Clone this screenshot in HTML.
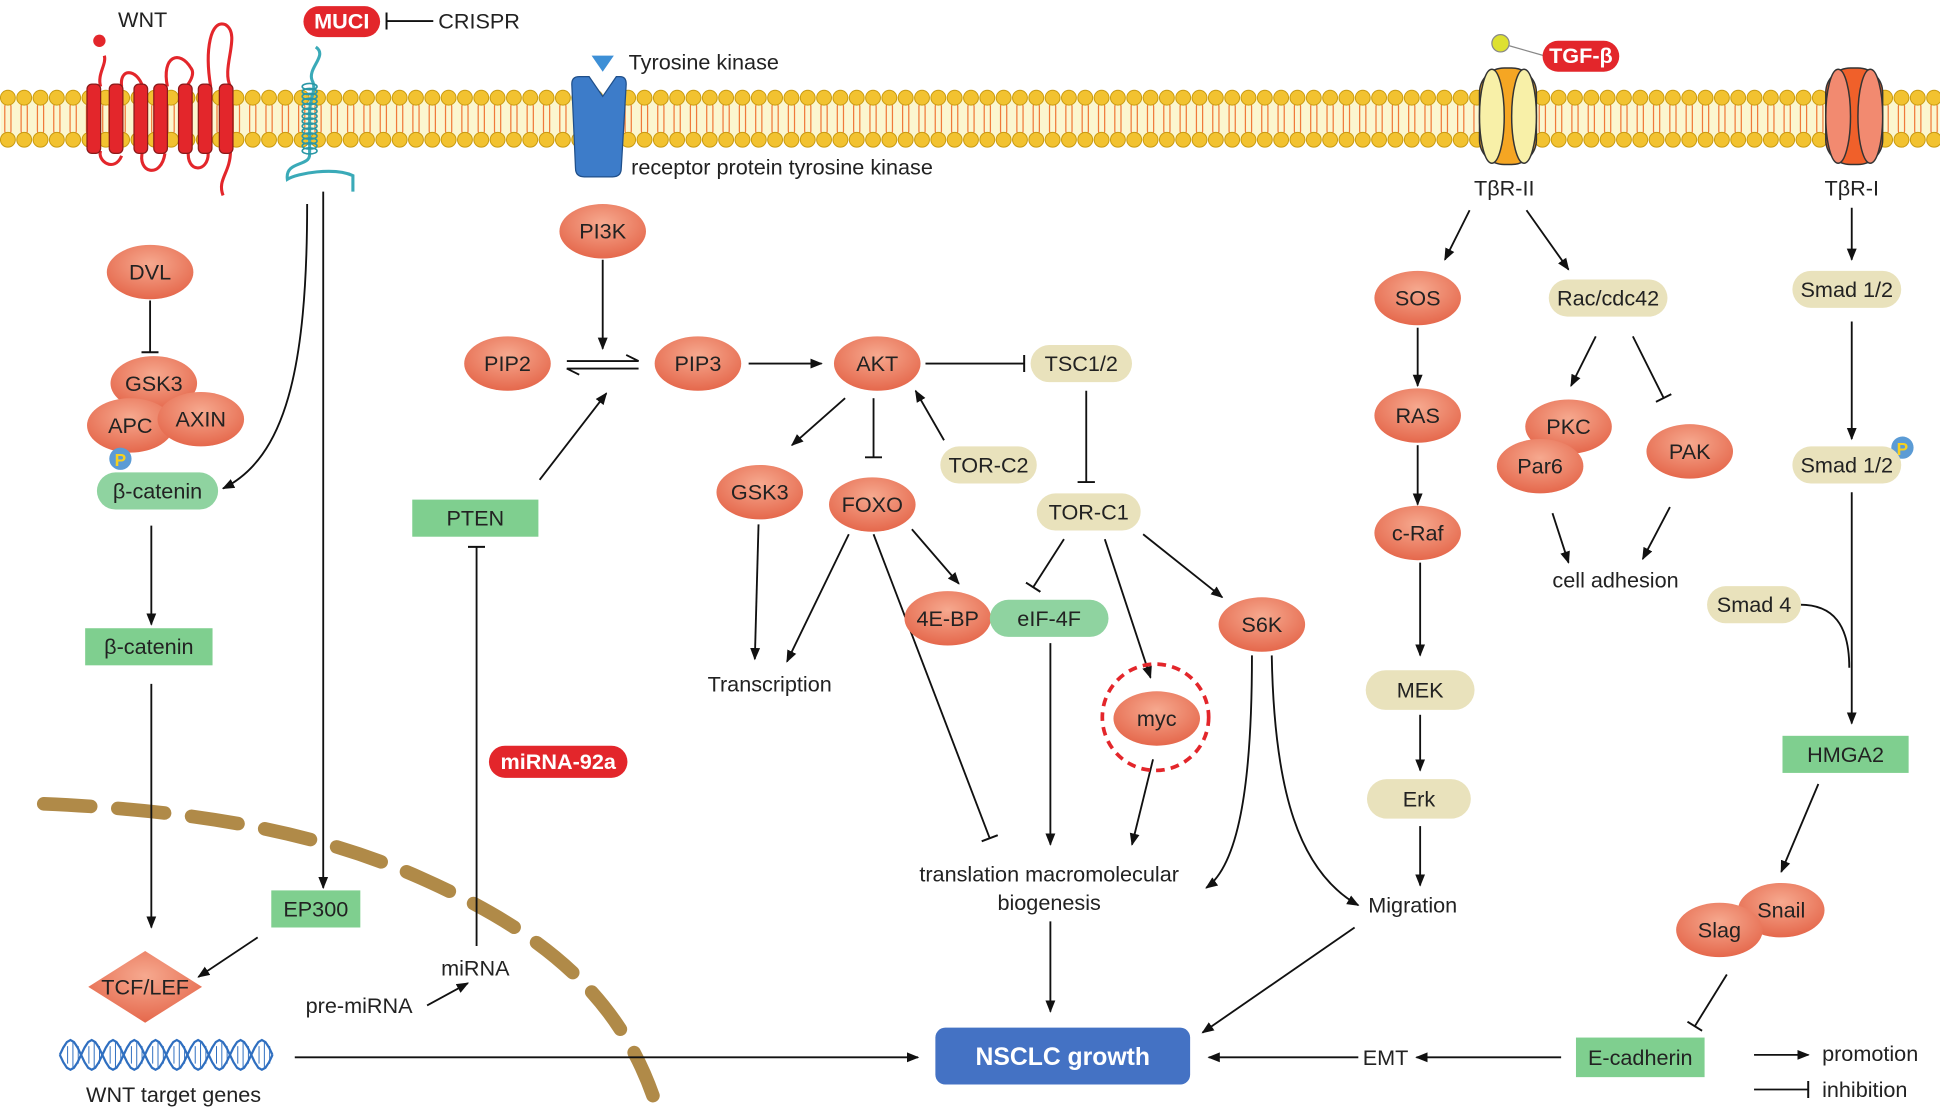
<!DOCTYPE html>
<html><head><meta charset="utf-8"><style>
html,body{margin:0;padding:0;background:#fff;}
svg{display:block;}
text{font-family:"Liberation Sans",sans-serif;font-size:17.5px;fill:#222;}
.c{text-anchor:middle;}
</style></head><body>
<svg id="s" width="1940" height="1113" viewBox="0 0 1568 900" xmlns="http://www.w3.org/2000/svg">
<defs>
<radialGradient id="sal" cx="50%" cy="35%" r="65%"><stop offset="0" stop-color="#f6a98f"/><stop offset="1" stop-color="#e5684c"/></radialGradient>
<marker id="a" markerWidth="10" markerHeight="10" refX="9" refY="5" orient="auto" markerUnits="userSpaceOnUse"><path d="M0,1 L10,5 L0,9 Z" fill="#111"/></marker>
<marker id="t" markerWidth="4" markerHeight="14" refX="2" refY="7" orient="auto" markerUnits="userSpaceOnUse"><rect x="1" y="0" width="1.6" height="14" fill="#111"/></marker>
</defs>
<rect x="0" y="78" width="1568" height="36" fill="#fbf6cf"/>
<g id="lip"></g>
<g stroke="#e3262b" stroke-width="2.5" fill="none">
<path d="M81,70 C78,60 86,52 84,45"/><path d="M98,70 C96,55 110,55 115,70"/><path d="M135,70 C130,45 145,40 154,55 C158,60 152,68 150,70"/><path d="M170,70 C165,40 170,15 182,20 C195,28 178,55 186,70"/>
<path d="M81,122 C78,130 92,140 98,126"/><path d="M115,122 C110,140 130,145 133,124"/><path d="M152,122 C150,140 168,140 168,124"/><path d="M186,122 C186,140 175,145 180,158"/>
</g>
<circle cx="80" cy="33" r="5" fill="#e3262b"/>
<g fill="#e3262b" stroke="#8a1a1a" stroke-width="1">
<rect x="70" y="68" width="11" height="56" rx="4"/><rect x="88" y="68" width="11" height="56" rx="4"/><rect x="108" y="68" width="11" height="56" rx="4"/><rect x="124" y="68" width="11" height="56" rx="4"/><rect x="144" y="68" width="11" height="56" rx="4"/><rect x="160" y="68" width="11" height="56" rx="4"/><rect x="177" y="68" width="11" height="56" rx="4"/>
</g>
<text x="115" y="22" class="c">WNT</text>
<path d="M255,38 C265,45 248,55 252,65 C256,72 250,80 250,90 L250,125 C250,135 230,130 232,145 C240,140 270,135 285,142 L285,155" stroke="#3aaab8" stroke-width="2.5" fill="none"/>
<g id="coil"></g>
<rect x="245" y="5" width="62" height="25" rx="12.5" fill="#e3262b"/>
<text x="276" y="23" class="c" style="fill:#fff;font-weight:bold">MUCI</text>
<line x1="350" y1="17" x2="312" y2="17" stroke="#111" stroke-width="1.5" marker-end="url(#t)"/>
<text x="354" y="23">CRISPR</text>
<path d="M462,68 Q462,62 468,62 L476,62 L487,78 L498,62 L501,62 Q506,62 506,68 L502,136 Q502,143 495,143 L472,143 Q465,143 465,136 Z" fill="#3d7cc9" stroke="#1f4f8a"/>
<path d="M478,45 L496,45 L487,58 Z" fill="#3d8fd6"/>
<text x="508" y="56">Tyrosine kinase</text>
<text x="510" y="141">receptor protein tyrosine kinase</text>
<g stroke="#333" stroke-width="1.2">
<rect x="1196" y="55" width="46" height="78" rx="20" fill="#f5a623"/>
<ellipse cx="1206" cy="94" rx="10" ry="38" fill="#f8f0a8"/><ellipse cx="1232" cy="94" rx="10" ry="38" fill="#f8f0a8"/>
<rect x="1476" y="55" width="46" height="78" rx="20" fill="#f0602a"/>
<ellipse cx="1486" cy="94" rx="10" ry="38" fill="#f28a70"/><ellipse cx="1512" cy="94" rx="10" ry="38" fill="#f28a70"/>
</g>
<circle cx="1213" cy="35" r="7" fill="#dde030" stroke="#888"/>
<line x1="1220" y1="37" x2="1248" y2="45" stroke="#888"/>
<rect x="1247" y="33" width="62" height="25" rx="12.5" fill="#e3262b"/>
<text x="1278" y="51" class="c" style="fill:#fff;font-weight:bold">TGF-β</text>
<text x="1216" y="158" class="c">TβR-II</text>
<text x="1497" y="158" class="c">TβR-I</text>
<path d="M35,650 C150,655 250,670 340,710 C430,750 500,800 530,893" stroke="#b08a48" stroke-width="11" fill="none" stroke-dasharray="38 22" stroke-linecap="round"/>
<g stroke="#2f6fc0" stroke-width="1.8" fill="none">
<path id="d1"/><path id="d2"/>
</g>
<g stroke="#111" stroke-width="1.5" fill="none">
<line x1="121" y1="243" x2="121" y2="285" marker-end="url(#t)"/>
<path d="M248,165 C248,300 230,370 180,395" marker-end="url(#a)"/>
<line x1="261" y1="155" x2="261" y2="718" marker-end="url(#a)"/>
<line x1="122" y1="425" x2="122" y2="505" marker-end="url(#a)"/>
<line x1="122" y1="553" x2="122" y2="750" marker-end="url(#a)"/>
<line x1="208" y1="758" x2="160" y2="790" marker-end="url(#a)"/>
<line x1="238" y1="855" x2="742" y2="855" marker-end="url(#a)"/>
<line x1="487" y1="210" x2="487" y2="282" marker-end="url(#a)"/>
<path d="M458,292 L516,292 L506,287"/><path d="M516,298 L458,298 L468,303"/>
<line x1="436" y1="388" x2="490" y2="318" marker-end="url(#a)"/>
<line x1="605" y1="294" x2="664" y2="294" marker-end="url(#a)"/>
<line x1="748" y1="294" x2="828" y2="294" marker-end="url(#t)"/>
<line x1="878" y1="316" x2="878" y2="390" marker-end="url(#t)"/>
<line x1="763" y1="356" x2="740" y2="316" marker-end="url(#a)"/>
<line x1="683" y1="322" x2="640" y2="360" marker-end="url(#a)"/>
<line x1="706" y1="322" x2="706" y2="370" marker-end="url(#t)"/>
<line x1="613" y1="424" x2="610" y2="533" marker-end="url(#a)"/>
<line x1="686" y1="432" x2="636" y2="535" marker-end="url(#a)"/>
<line x1="737" y1="428" x2="775" y2="472" marker-end="url(#a)"/>
<line x1="706" y1="432" x2="800" y2="678" marker-end="url(#t)"/>
<line x1="860" y1="436" x2="835" y2="475" marker-end="url(#t)"/>
<line x1="893" y1="436" x2="930" y2="548" marker-end="url(#a)"/>
<line x1="924" y1="432" x2="988" y2="483" marker-end="url(#a)"/>
<line x1="849" y1="520" x2="849" y2="683" marker-end="url(#a)"/>
<line x1="932" y1="614" x2="915" y2="683" marker-end="url(#a)"/>
<path d="M1012,530 C1012,640 1000,700 975,718" marker-end="url(#a)"/>
<path d="M1028,530 C1030,640 1050,705 1098,732" marker-end="url(#a)"/>
<line x1="849" y1="745" x2="849" y2="818" marker-end="url(#a)"/>
<line x1="1095" y1="750" x2="972" y2="835" marker-end="url(#a)"/>
<line x1="1098" y1="855" x2="977" y2="855" marker-end="url(#a)"/>
<line x1="1262" y1="855" x2="1145" y2="855" marker-end="url(#a)"/>
<line x1="1188" y1="170" x2="1168" y2="210" marker-end="url(#a)"/>
<line x1="1234" y1="170" x2="1268" y2="218" marker-end="url(#a)"/>
<line x1="1146" y1="265" x2="1146" y2="312" marker-end="url(#a)"/>
<line x1="1146" y1="360" x2="1146" y2="408" marker-end="url(#a)"/>
<line x1="1148" y1="455" x2="1148" y2="530" marker-end="url(#a)"/>
<line x1="1148" y1="578" x2="1148" y2="623" marker-end="url(#a)"/>
<line x1="1148" y1="668" x2="1148" y2="716" marker-end="url(#a)"/>
<line x1="1290" y1="272" x2="1270" y2="312" marker-end="url(#a)"/>
<line x1="1320" y1="272" x2="1345" y2="322" marker-end="url(#t)"/>
<line x1="1255" y1="415" x2="1268" y2="455" marker-end="url(#a)"/>
<line x1="1350" y1="410" x2="1328" y2="452" marker-end="url(#a)"/>
<line x1="1497" y1="168" x2="1497" y2="210" marker-end="url(#a)"/>
<line x1="1497" y1="260" x2="1497" y2="355" marker-end="url(#a)"/>
<line x1="1497" y1="398" x2="1497" y2="585" marker-end="url(#a)"/>
<path d="M1455,489 C1482,489 1495,505 1495,540"/>
<line x1="1470" y1="634" x2="1440" y2="705" marker-end="url(#a)"/>
<line x1="1396" y1="788" x2="1370" y2="830" marker-end="url(#t)"/>
<line x1="385" y1="765" x2="385" y2="442" marker-end="url(#t)"/>
<line x1="345" y1="813" x2="378" y2="795" marker-end="url(#a)"/>
<line x1="1418" y1="853" x2="1462" y2="853" marker-end="url(#a)"/>
<line x1="1418" y1="881" x2="1462" y2="881" marker-end="url(#t)"/>
</g>
<g id="sn" fill="url(#sal)"></g>
<circle cx="97" cy="371" r="9" fill="#5b9bd5"/><text x="97" y="377" class="c" style="fill:#f5d020;font-weight:bold;font-size:14px">P</text>
<circle cx="1538" cy="362" r="9" fill="#5b9bd5"/><text x="1538" y="368" class="c" style="fill:#f5d020;font-weight:bold;font-size:14px">P</text>
<path d="M117,769 L163,798 L117,827 L71,798 Z" fill="url(#sal)"/>
<text x="117" y="804" class="c">TCF/LEF</text>
<circle cx="934" cy="580" r="43" fill="none" stroke="#e3262b" stroke-width="3" stroke-dasharray="7 5"/>
<g id="bx"></g>
<rect x="756" y="831" width="206" height="46" rx="8" fill="#4472c4"/>
<text x="859" y="861" class="c" style="fill:#fff;font-weight:bold;font-size:20px">NSCLC growth</text>
<rect x="395" y="603" width="112" height="26" rx="13" fill="#e3262b"/>
<text x="451" y="622" class="c" style="fill:#fff;font-weight:bold">miRNA-92a</text>
<text x="622" y="559" class="c">Transcription</text>
<text x="848" y="713" class="c">translation macromolecular</text>
<text x="848" y="736" class="c">biogenesis</text>
<text x="1142" y="738" class="c">Migration</text>
<text x="1306" y="475" class="c">cell adhesion</text>
<text x="1120" y="861" class="c">EMT</text>
<text x="384" y="789" class="c">miRNA</text>
<text x="290" y="819" class="c">pre-miRNA</text>
<text x="140" y="891" class="c">WNT target genes</text>
<text x="1473" y="858">promotion</text>
<text x="1473" y="887">inhibition</text>
</svg>
<script>
var NS="http://www.w3.org/2000/svg";
function el(p,t,a,txt){var e=document.createElementNS(NS,t);for(var k in a)e.setAttribute(k,a[k]);if(txt!==undefined)e.textContent=txt;p.appendChild(e);return e;}
var lip=document.getElementById('lip');
for(var x=6;x<1568;x+=13.2){
 el(lip,'rect',{x:x-2.5,y:84,width:5,height:24,rx:2,fill:'none',stroke:'#f07a3a','stroke-width':1});
 el(lip,'circle',{cx:x,cy:79,r:6,fill:'#f2c230',stroke:'#c99a10','stroke-width':0.8});
 el(lip,'circle',{cx:x,cy:113,r:6,fill:'#f2c230',stroke:'#c99a10','stroke-width':0.8});
}
var coil=document.getElementById('coil');
for(var y=70;y<125;y+=4){el(coil,'ellipse',{cx:250,cy:y,rx:6,ry:2.5,fill:'none',stroke:'#2a97a6','stroke-width':1.3});}
var d1='',d2='';for(var i=0;i<=60;i++){var x=48+i*172/60,y1=853+12*Math.sin(i/60*Math.PI*10),y2=853-12*Math.sin(i/60*Math.PI*10);d1+=(i?'L':'M')+x+','+y1;d2+=(i?'L':'M')+x+','+y2;}
document.getElementById('d1').setAttribute('d',d1);document.getElementById('d2').setAttribute('d',d2);
var dg=document.getElementById('d1').parentNode;for(var i=0;i<40;i++){var x=50+i*4.3;el(dg,'line',{x1:x,y1:853-10*Math.abs(Math.sin(i/40*Math.PI*10)),x2:x,y2:853+10*Math.abs(Math.sin(i/40*Math.PI*10)),'stroke-width':0.8});}
var sn=document.getElementById('sn');
[["DVL",121,220],["GSK3",124,310],["APC",105,344],["AXIN",162,339],["PI3K",487,187],["PIP2",410,294],["PIP3",564,294],["AKT",709,294],["GSK3",614,398],["FOXO",705,408],["4E-BP",766,500],["S6K",1020,505],["myc",935,581],["SOS",1146,241],["RAS",1146,336],["c-Raf",1146,431],["PKC",1268,345],["Par6",1245,377],["PAK",1366,365],["Snail",1440,736],["Slag",1390,752]].forEach(function(n){
 el(sn,'ellipse',{cx:n[1],cy:n[2],rx:35,ry:22});
 el(sn,'text',{x:n[1],y:n[2]+6,'class':'c'},n[0]);
});
var bx=document.getElementById('bx');
[["β-catenin",127,397,98,30,"#8fd3a0",15],["β-catenin",120,523,103,30,"#7fcf8f",0],["TSC1/2",874,294,82,30,"#e9e2bc",15],["PTEN",384,419,102,30,"#7fcf8f",0],["TOR-C2",799,376,78,30,"#e9e2bc",15],["TOR-C1",880,414,84,30,"#e9e2bc",15],["eIF-4F",848,500,96,30,"#8fd3a0",15],["EP300",255,735,72,30,"#7fcf8f",0],["MEK",1148,558,88,32,"#e9e2bc",16],["Erk",1147,646,84,32,"#e9e2bc",16],["Rac/cdc42",1300,241,96,30,"#e9e2bc",15],["Smad 1/2",1493,234,88,30,"#e9e2bc",15],["Smad 1/2",1493,376,88,30,"#e9e2bc",15],["Smad 4",1418,489,76,30,"#e9e2bc",15],["HMGA2",1492,610,102,30,"#7fcf8f",0],["E-cadherin",1326,855,104,32,"#7fcf8f",0]].forEach(function(b){
 el(bx,'rect',{x:b[1]-b[3]/2,y:b[2]-b[4]/2,width:b[3],height:b[4],rx:b[6],fill:b[5]});
 el(bx,'text',{x:b[1],y:b[2]+6,'class':'c'},b[0]);
});
</script>
</body></html>
